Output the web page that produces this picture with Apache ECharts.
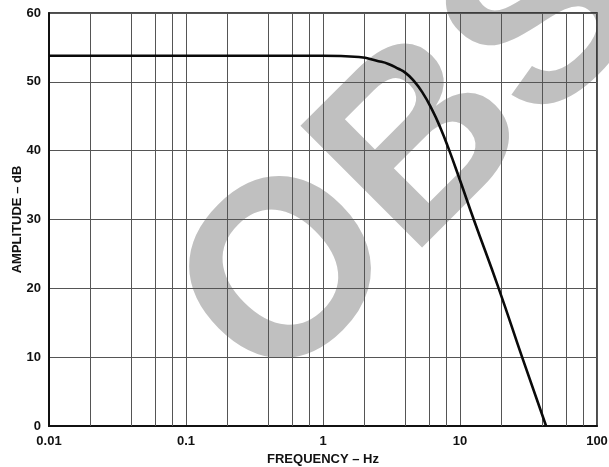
<!DOCTYPE html>
<html>
<head>
<meta charset="utf-8">
<script src="https://cdn.jsdelivr.net/npm/echarts@6/dist/echarts.min.js"></script>
<style>
  html, body { margin: 0; padding: 0; background: #fff; }
  #chart { width: 609px; height: 467px; }
</style>
</head>
<body>
<div id="chart"></div>
<script>
// 频率响应曲线
const freqHz = [0.01, 0.1, 1, 1.83, 2.54, 3, 3.55, 4, 4.5, 5.3, 6.29, 7.2, 8.22, 10, 12.6, 19.16, 28.4, 42.5];
const amplitudeDb = [53.8, 53.8, 53.8, 53.6, 53.0, 52.6, 51.9, 51.3, 50.35, 48.5, 45.85, 43.3, 40.4, 35.7, 30, 20, 10, 0];

// x 轴刻度和次网格线 (2,4,6,8 每十倍频)
const xTickLabels = ['0.01', '0.1', '1', '10', '100'];
const minorGridFreqs = [
  0.02, 0.04, 0.06, 0.08,
  0.2, 0.4, 0.6, 0.8,
  2, 4, 6, 8,
  20, 40, 60, 80
];
const yTicks = [0, 10, 20, 30, 40, 50, 60];

const watermarkText = 'OBSOLETE';

const font = '"Liberation Sans", Arial, Helvetica, sans-serif';
const gridColor = '#555';

let myChart = echarts.init(document.getElementById('chart'), null, { renderer: 'canvas' });

let option = {
  backgroundColor: '#fff',
  animation: false,
  grid: {
    left: 49,
    right: 12,
    top: 13,
    bottom: 41,
    containLabel: false,
    outerBoundsMode: 'none',
    show: true,
    borderColor: '#111',
    borderWidth: 1.5,
    backgroundColor: 'transparent'
  },
  graphic: [
    {
      // 水印
      type: 'text',
      z: -10,
      x: 224,
      y: 348,
      rotation: Math.PI / 4,
      silent: true,
      style: {
        text: watermarkText,
        font: 'bold 250px ' + font,
        fill: '#c0c0c0',
        textAlign: 'left',
        textVerticalAlign: 'middle'
      }
    }
  ],
  xAxis: {
    type: 'log',
    logBase: 10,
    min: 0.01,
    max: 100,
    name: 'FREQUENCY – Hz',
    nameLocation: 'middle',
    nameGap: 27,
    nameMoveOverlap: false,
    nameTextStyle: { fontFamily: font, fontWeight: 'bold', fontSize: 13, color: '#111' },
    axisLine: { show: true, onZero: false, lineStyle: { color: '#111', width: 2 } },
    axisTick: { show: false },
    axisLabel: {
      margin: 9,
      fontFamily: font,
      fontWeight: 'bold',
      fontSize: 13,
      color: '#111',
      showMinLabel: true,
      showMaxLabel: true,
      formatter: function (value, index) {
        return xTickLabels[index] !== undefined ? xTickLabels[index] : value;
      }
    },
    splitLine: { show: true, lineStyle: { color: gridColor, width: 1 } }
  },
  yAxis: {
    type: 'value',
    min: yTicks[0],
    max: yTicks[yTicks.length - 1],
    interval: 10,
    name: 'AMPLITUDE – dB',
    nameLocation: 'middle',
    nameGap: 25,
    nameMoveOverlap: false,
    nameRotate: 90,
    nameTextStyle: { fontFamily: font, fontWeight: 'bold', fontSize: 13, color: '#111' },
    axisLine: { show: true, lineStyle: { color: '#111', width: 2 } },
    axisTick: { show: false },
    axisLabel: {
      margin: 8,
      fontFamily: font,
      fontWeight: 'bold',
      fontSize: 13,
      color: '#111'
    },
    splitLine: { show: true, lineStyle: { color: gridColor, width: 1 } }
  },
  series: [
    {
      // 次网格线
      type: 'line',
      z: 1,
      data: [],
      silent: true,
      markLine: {
        silent: true,
        symbol: ['none', 'none'],
        label: { show: false },
        lineStyle: { color: gridColor, width: 1, type: 'solid' },
        data: minorGridFreqs.map(function (f) { return { xAxis: f }; })
      }
    },
    {
      type: 'line',
      z: 5,
      data: freqHz.map(function (f, i) { return [f, amplitudeDb[i]]; }),
      showSymbol: false,
      smooth: 0.5,
      lineStyle: { color: '#0a0a0a', width: 2.6 }
    }
  ]
};

myChart.setOption(option);

window.addEventListener('resize', function () {
  myChart.resize();
});
</script>
</body>
</html>
